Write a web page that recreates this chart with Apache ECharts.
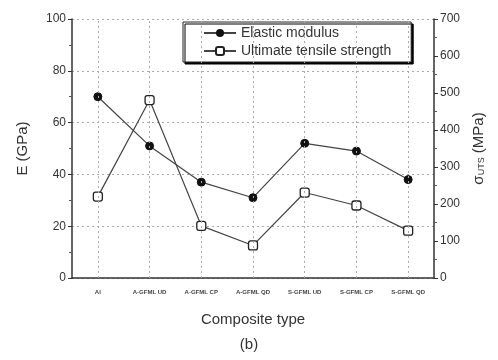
<!DOCTYPE html>
<html><head><meta charset="utf-8">
<script src="https://cdn.jsdelivr.net/npm/echarts@6/dist/echarts.min.js"></script>
<style>html,body{margin:0;padding:0;background:#fff}#c{width:498px;height:360px}</style>
</head><body><div id="c"></div>
<script>
const categories = ['Al','A-GFML UD','A-GFML CP','A-GFML QD','S-GFML UD','S-GFML CP','S-GFML QD'];
const modulus = [70, 51, 37, 31, 52, 49, 38];
const uts = [220, 481, 141, 88, 231, 196, 128];
const leftTicks = [0, 100, 20];
const rightTicks = [0, 700, 100];

const chart = echarts.init(document.getElementById('c'));
const txt = '#333';
chart.setOption({
  animation: false,
  backgroundColor: '#fff',
  textStyle: {fontFamily: 'Liberation Sans, Arial, sans-serif'},
  grid: {left: 72, right: 64, top: 19, bottom: 82},
  legend: {
    orient: 'vertical', left: 183, top: 22,
    padding: [4, 20, 4, 20], itemGap: 4, itemWidth: 32, itemHeight: 10,
    borderColor: '#222', borderWidth: 1, backgroundColor: '#fff',
    shadowColor: '#000', shadowOffsetX: 2, shadowOffsetY: 2, shadowBlur: 0,
    textStyle: {fontSize: 14, lineHeight: 14, color: txt},
    data: ['Elastic modulus', 'Ultimate tensile strength']
  },
  xAxis: {
    type: 'category', data: categories, boundaryGap: true,
    name: 'Composite type', nameLocation: 'middle', nameGap: 34,
    nameTextStyle: {fontSize: 15, color: txt},
    axisLine: {lineStyle: {color: '#333', width: 1.5}},
    axisTick: {alignWithLabel: true, length: 4, lineStyle: {color: '#333'}},
    axisLabel: {fontSize: 6, fontWeight: 'bold', color: '#444', margin: 11},
    splitLine: {show: false}
  },
  yAxis: [{
    type: 'value', min: leftTicks[0], max: leftTicks[1], interval: leftTicks[2],
    name: 'E (GPa)', nameLocation: 'middle', nameGap: 42,
    nameTextStyle: {fontSize: 15, color: txt},
    axisLine: {show: true, lineStyle: {color: '#333', width: 1.5}},
    axisTick: {show: true, length: 4, lineStyle: {color: '#333'}},
    minorTick: {show: true, splitNumber: 2, length: 3, lineStyle: {color: '#555'}},
    axisLabel: {fontSize: 12, color: txt, margin: 6},
    splitLine: {show: true, lineStyle: {color: '#aaa', type: [2, 3], width: 1}}
  }, {
    type: 'value', min: rightTicks[0], max: rightTicks[1], interval: rightTicks[2],
    name: '{s|σ}{sub|UTS}{s| (MPa)}', nameLocation: 'middle', nameGap: 36, nameRotate: 90,
    nameTextStyle: {color: txt, rich: {s: {fontSize: 15, color: txt}, sub: {fontSize: 9, color: txt, verticalAlign: 'bottom', padding: [6, 0, 0, 0]}}},
    axisLine: {show: true, lineStyle: {color: '#333', width: 1.5}},
    axisTick: {show: true, length: 4, lineStyle: {color: '#333'}},
    minorTick: {show: true, splitNumber: 2, length: 3, lineStyle: {color: '#555'}},
    axisLabel: {fontSize: 12, color: txt, margin: 6},
    splitLine: {show: false}
  }],
  series: [{
    name: 'Elastic modulus', type: 'line', yAxisIndex: 0, data: modulus,
    symbol: 'circle', symbolSize: 8,
    lineStyle: {color: '#444', width: 1.2},
    itemStyle: {color: '#111', borderColor: '#111'},
    markLine: {
      silent: true, symbol: 'none', label: {show: false},
      lineStyle: {color: '#aaa', type: [2, 3], width: 1},
      data: categories.map(c => ({xAxis: c}))
    }
  }, {
    name: 'Ultimate tensile strength', type: 'line', yAxisIndex: 1, data: uts,
    symbol: 'roundRect', symbolSize: 9,
    lineStyle: {color: '#444', width: 1.2},
    itemStyle: {color: '#fff', borderColor: '#222', borderWidth: 1.3}
  }],
  graphic: [{
    type: 'text', left: 'center', top: 337,
    style: {text: '(b)', fontSize: 15, fill: txt, fontFamily: 'Liberation Sans, Arial, sans-serif'}
  }]
});
</script></body></html>
